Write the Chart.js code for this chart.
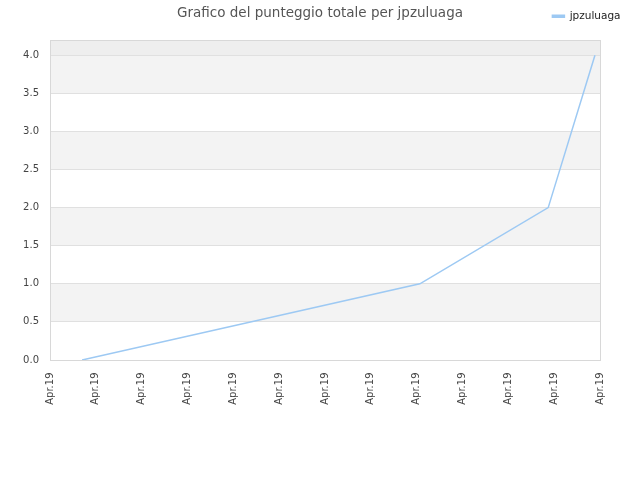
<!DOCTYPE html>
<html><head><meta charset="utf-8">
<script src="https://cdn.jsdelivr.net/npm/chart.js@4/dist/chart.umd.min.js"></script>
<style>html,body{margin:0;padding:0;background:#fff}#wrap{position:relative;width:640px;height:480px}</style>
</head><body><div id="wrap"><canvas id="c" width="640" height="480"></canvas></div>
<script>
const chartTitle = 'Grafico del punteggio totale per jpzuluaga';
const seriesName = 'jpzuluaga';
const xTickLabels = ['Apr.19','Apr.19','Apr.19','Apr.19','Apr.19','Apr.19','Apr.19','Apr.19','Apr.19','Apr.19','Apr.19','Apr.19','Apr.19'];
const pointPositions = [0.70, 8.07, 10.87, 11.89];
const totalScores = [0, 1, 2, 4];
const yTickValues = [0, 0.5, 1.0, 1.5, 2.0, 2.5, 3.0, 3.5, 4.0];

const bandPlugin = {
  id: 'bands',
  beforeDraw(chart) {
    const {ctx, chartArea: a, scales: {y}} = chart;
    ctx.save();
    const top4 = y.getPixelForValue(yTickValues[yTickValues.length - 1]);
    ctx.fillStyle = '#eeeeee';
    ctx.fillRect(a.left, a.top, a.right - a.left, top4 - a.top);
    ctx.fillStyle = '#f3f3f3';
    for (let i = 1; i < yTickValues.length - 1; i += 2) {
      const t = y.getPixelForValue(yTickValues[i + 1]);
      const b = y.getPixelForValue(yTickValues[i]);
      ctx.fillRect(a.left, t, a.right - a.left, b - t);
    }
    ctx.restore();
  },
  afterDraw(chart) {
    const {ctx, chartArea: a} = chart;
    ctx.save();
    ctx.strokeStyle = '#d8d8d8';
    ctx.lineWidth = 1;
    ctx.strokeRect(Math.round(a.left) + 0.5, Math.round(a.top) + 0.5, Math.round(a.right - a.left), Math.round(a.bottom - a.top));
    ctx.restore();
  }
};

new Chart(document.getElementById('c'), {
  type: 'line',
  data: {
    datasets: [{
      label: seriesName,
      data: pointPositions.map((x, i) => ({x: x, y: totalScores[i]})),
      borderColor: '#9dc9f3',
      backgroundColor: '#9dc9f3',
      borderWidth: 1.5,
      pointRadius: 0,
      tension: 0,
      fill: false
    }]
  },
  options: {
    responsive: false,
    animation: false,
    devicePixelRatio: 1,
    layout: {padding: 0},
    plugins: {
      title: {
        display: true,
        text: chartTitle,
        color: '#555555',
        font: {family: 'DejaVu Sans', size: 13.5, weight: 'normal'},
        padding: {top: 5, bottom: -29.7}
      },
      legend: {
        display: true,
        position: 'top',
        align: 'end',
        labels: {
          color: '#222222',
          font: {family: 'DejaVu Sans', size: 10.5},
          boxWidth: 12,
          boxHeight: 2,
          padding: 19.5
        }
      },
      tooltip: {enabled: false}
    },
    scales: {
      x: {
        type: 'linear',
        min: 0,
        max: xTickLabels.length - 1,
        afterBuildTicks(scale) { scale.ticks = xTickLabels.map((_, i) => ({value: i})); },
        ticks: {
          stepSize: 1,
          autoSkip: false,
          minRotation: 90,
          maxRotation: 90,
          padding: 21,
          color: '#444444',
          font: {family: 'DejaVu Sans', size: 10},
          callback: (v, i) => xTickLabels[i]
        },
        grid: {display: false, drawTicks: false},
        border: {display: false},
        afterFit(scale) { scale.height = 120; }
      },
      y: {
        min: 0,
        max: 4.2,
        afterBuildTicks(scale) { scale.ticks = yTickValues.map(v => ({value: v})); },
        ticks: {
          color: '#444444',
          font: {family: 'DejaVu Sans', size: 10},
          padding: 11,
          callback: v => v.toFixed(1)
        },
        grid: {color: '#e0e0e0', drawTicks: false},
        border: {display: false},
        afterFit(scale) { scale.width = 50; }
      },
      yRight: {
        position: 'right',
        display: true,
        ticks: {display: false},
        grid: {display: false, drawTicks: false},
        border: {display: false},
        afterFit(scale) { scale.width = 40; }
      }
    }
  },
  plugins: [bandPlugin]
});
</script>
</body></html>
